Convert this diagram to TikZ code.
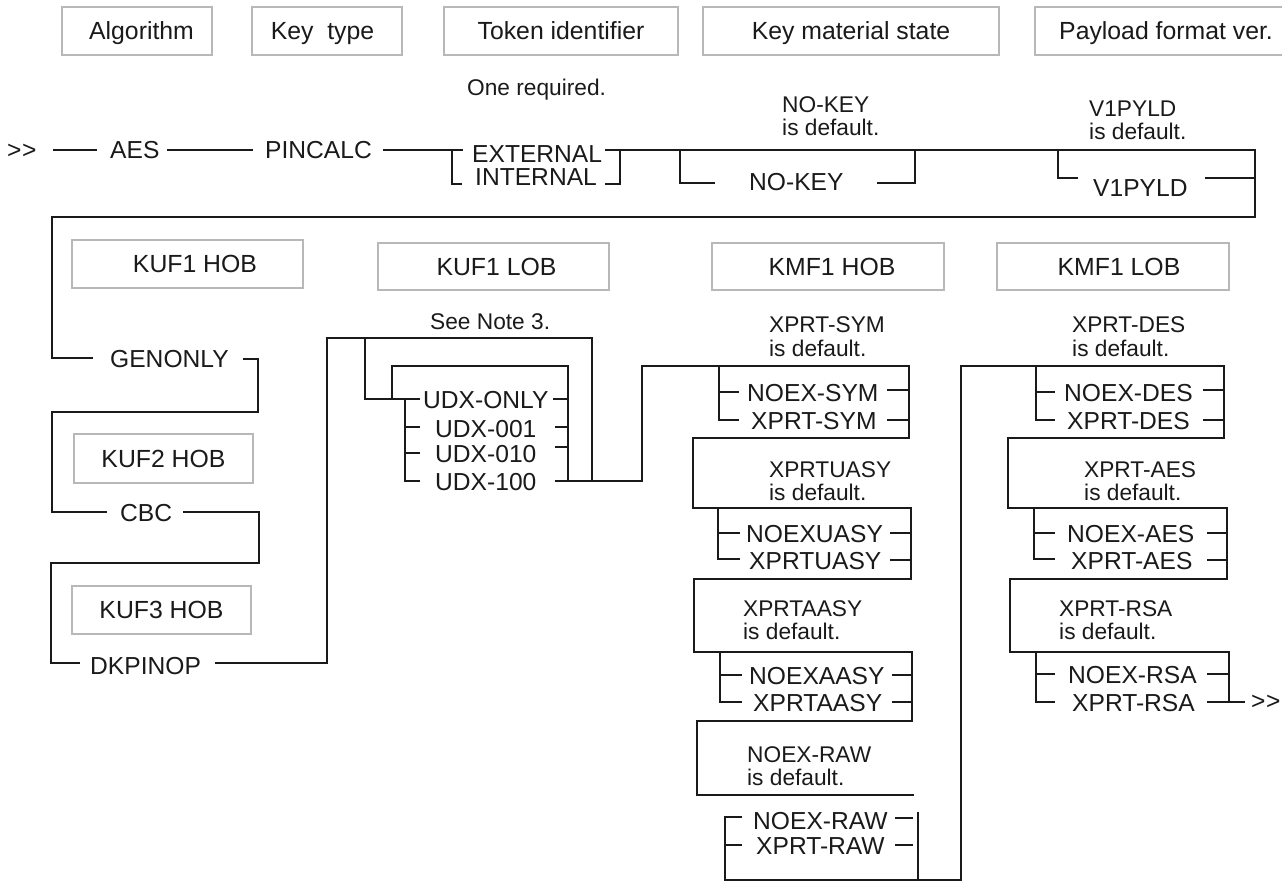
\documentclass[tikz,border=0pt]{standalone}
\usepackage{fontspec}
\setmainfont{Liberation Sans}
\newcommand\lblfont{\fontsize{24.6pt}{26pt}\selectfont}
\newcommand\notefont{\fontsize{22.7pt}{24pt}\selectfont}
\newcommand\hdrfont{\fontsize{24.8pt}{27pt}\selectfont}
\newcommand\gtgt{{>}\kern0.6pt{>}}
\definecolor{boxgray}{HTML}{B8B8B8}
\definecolor{ink}{HTML}{1A1A1A}
\begin{document}
\begin{tikzpicture}[x=1pt,y=-1pt,
  lbl/.style={font=\lblfont, inner sep=0pt, anchor=base west, text=ink},
  note/.style={font=\notefont, inner sep=0pt, anchor=base west, text=ink},
  hdr/.style={draw=boxgray, line width=1.1pt, font=\hdrfont, inner sep=0pt,
              text height=17.8pt, text depth=0pt, text=ink, rectangle},
  hdrtxt/.style={font=\hdrfont, inner sep=0pt, text height=17.8pt, text depth=0pt, text=ink},
  conn/.style={line width=2.2pt, draw=ink, line join=miter, line cap=butt}
]
\fill[white] (0,0) rectangle (1282,882);
\useasboundingbox (0,0) rectangle (1282,882);

% ---------- header boxes, first row ----------
\node[hdr, minimum width=150pt, minimum height=48pt] (h1) at (137,31) {\hspace*{9pt}Algorithm};
\node[hdr, minimum width=150pt, minimum height=48pt] (h2) at (327,31) {Key\ \ type\hspace*{9pt}};
\node[hdr, minimum width=234pt, minimum height=48pt] (h3) at (561,31) {Token identifier};
\node[hdr, minimum width=296pt, minimum height=48pt] (h4) at (851,31) {Key material state};
\node[hdr, minimum width=266pt, minimum height=48pt] (h5) at (1168,31) {};
\node[hdrtxt, anchor=west] (h5t) at (1059,31) {Payload format ver.};

% ---------- header boxes, second part ----------
\node[hdr, minimum width=231pt, minimum height=48pt] (k1) at (187.5,264) {\hspace*{15pt}KUF1 HOB};
\node[hdr, minimum width=231pt, minimum height=47pt] (k2) at (493.5,266.5) {\hspace*{6pt}KUF1 LOB};
\node[hdr, minimum width=232pt, minimum height=47pt] (k3) at (828,266.5) {\hspace*{8pt}KMF1 HOB};
\node[hdr, minimum width=232pt, minimum height=47pt] (k4) at (1113,266.5) {\hspace*{12pt}KMF1 LOB};
\node[hdr, minimum width=179pt, minimum height=49pt] (k5) at (163.5,458.5) {KUF2 HOB};
\node[hdr, minimum width=179pt, minimum height=48pt] (k6) at (161.5,610) {KUF3 HOB};

% ---------- notes ----------
\node[note] (n0) at (467,96) {One required.};
\node[note] (n1) at (782,113) {NO-KEY};
\node[note] (n1b) at (782,136) {is default.};
\node[note] (n2) at (1089,117) {V1PYLD};
\node[note] (n2b) at (1089,140) {is default.};
\node[note] (n3) at (430,330) {See Note 3.};
\node[note] (n4) at (769,333) {XPRT-SYM};
\node[note] (n4b) at (769,356) {is default.};
\node[note] (n5) at (1072,333) {XPRT-DES};
\node[note] (n5b) at (1072,356) {is default.};
\node[note] (n6) at (769,477) {XPRTUASY};
\node[note] (n6b) at (769,500) {is default.};
\node[note] (n7) at (1084,477) {XPRT-AES};
\node[note] (n7b) at (1084,500) {is default.};
\node[note] (n8) at (743,616) {XPRTAASY};
\node[note] (n8b) at (743,639) {is default.};
\node[note] (n9) at (1059,616) {XPRT-RSA};
\node[note] (n9b) at (1059,639) {is default.};
\node[note] (n10) at (747,762) {NOEX-RAW};
\node[note] (n10b) at (747,785) {is default.};

% ---------- keyword labels ----------
\node[font=\lblfont, inner sep=0pt, anchor=west, text=ink] (start) at (7,151) {\gtgt};
\node[lbl] (aes) at (110,159) {AES};
\node[lbl] (pincalc) at (265,159) {PINCALC};
\node[lbl] (ext) at (472,163) {EXTERNAL};
\node[lbl] (int) at (475,186) {INTERNAL};
\node[lbl] (nokey) at (749,191) {NO-KEY};
\node[lbl] (v1) at (1093,197) {V1PYLD};
\node[lbl] (gen) at (110,368) {GENONLY};
\node[lbl] (cbc) at (120,521) {CBC};
\node[lbl] (dkp) at (90,674) {DKPINOP};
\node[lbl] (udxo) at (423,408) {UDX-ONLY};
\node[lbl] (udx1) at (435,437) {UDX-001};
\node[lbl] (udx2) at (435,462) {UDX-010};
\node[lbl] (udx3) at (435,490) {UDX-100};
\node[lbl] (nsym) at (747,401) {NOEX-SYM};
\node[lbl] (xsym) at (751,429) {XPRT-SYM};
\node[lbl] (nuasy) at (746,542) {NOEXUASY};
\node[lbl] (xuasy) at (749,569) {XPRTUASY};
\node[lbl] (naasy) at (749,684) {NOEXAASY};
\node[lbl] (xaasy) at (753,711) {XPRTAASY};
\node[lbl] (nraw) at (753,829) {NOEX-RAW};
\node[lbl] (xraw) at (756,854) {XPRT-RAW};
\node[lbl] (ndes) at (1064,401) {NOEX-DES};
\node[lbl] (xdes) at (1067,429) {XPRT-DES};
\node[lbl] (naes) at (1067,542) {NOEX-AES};
\node[lbl] (xaes) at (1071,569) {XPRT-AES};
\node[lbl] (nrsa) at (1068,683) {NOEX-RSA};
\node[lbl] (xrsa) at (1072,711) {XPRT-RSA};
\node[font=\lblfont, inner sep=0pt, anchor=west, text=ink] (end) at (1251,702) {\gtgt};

% ---------- first row ----------
\draw[conn] (53,150) -- (97,150);
\draw[conn] (167,150) -- (253,150);
\draw[conn] (383,150) -- (463,150);
\draw[conn] (452,150) -- (452,184) -- (462,184);
\draw[conn] (605,184) -- (620,184) -- (620,150);
\draw[conn] (605,150) -- (1255,150) -- (1255,217) -- (52,217) -- (52,358) -- (93,358);
\draw[conn] (680,150) -- (680,183) -- (715,183);
\draw[conn] (877,183) -- (915,183) -- (915,150);
\draw[conn] (1058,150) -- (1058,178) -- (1078,178);
\draw[conn] (1205,178) -- (1255,178);

% ---------- KUF column ----------
\draw[conn] (243,359) -- (258,359) -- (258,412) -- (52,412) -- (52,512) -- (107,512);
\draw[conn] (183,512) -- (259,512) -- (259,563) -- (51,563) -- (51,663) -- (80,663);
\draw[conn] (215,663) -- (327,663) -- (327,338) -- (592,338) -- (592,481);

% ---------- UDX group ----------
\draw[conn] (365,338) -- (365,399) -- (420,399);
\draw[conn] (392,399) -- (392,366) -- (568,366) -- (568,481);
\draw[conn] (405,399) -- (405,481) -- (420,481);
\draw[conn] (405,427) -- (420,427);
\draw[conn] (405,453) -- (420,453);
\draw[conn] (553,399) -- (568,399);
\draw[conn] (555,427) -- (568,427);
\draw[conn] (555,447) -- (568,447);

% ---------- KMF1 HOB column ----------
\draw[conn] (555,481) -- (642,481) -- (642,366) -- (909,366) -- (909,438) -- (693,438)
  -- (693,508) -- (911,508) -- (911,579) -- (694,579) -- (694,652) -- (912,652)
  -- (912,721) -- (697,721) -- (697,795) -- (914,795);
\draw[conn] (719,366) -- (719,420) -- (739,420);
\draw[conn] (719,392) -- (739,392);
\draw[conn] (887,390) -- (909,390);
\draw[conn] (887,420) -- (909,420);
\draw[conn] (718,508) -- (718,559) -- (740,559);
\draw[conn] (718,533) -- (740,533);
\draw[conn] (890,533) -- (911,533);
\draw[conn] (890,560) -- (911,560);
\draw[conn] (720,652) -- (720,702) -- (742,702);
\draw[conn] (720,675) -- (742,675);
\draw[conn] (892,675) -- (912,675);
\draw[conn] (892,702) -- (912,702);
\draw[conn] (742,817) -- (725,817) -- (725,880) -- (961,880) -- (961,366) -- (1224,366)
  -- (1224,438) -- (1008,438) -- (1008,508) -- (1227,508) -- (1227,579) -- (1010,579)
  -- (1010,652) -- (1229,652) -- (1229,702);
\draw[conn] (725,845) -- (742,845);
\draw[conn] (895,818) -- (913,818);
\draw[conn] (895,845) -- (913,845);
\draw[conn] (918,812) -- (918,880);

% ---------- KMF1 LOB column ----------
\draw[conn] (1036,366) -- (1036,420) -- (1055,420);
\draw[conn] (1036,392) -- (1055,392);
\draw[conn] (1203,390) -- (1224,390);
\draw[conn] (1203,420) -- (1224,420);
\draw[conn] (1034,508) -- (1034,559) -- (1055,559);
\draw[conn] (1034,533) -- (1055,533);
\draw[conn] (1207,533) -- (1227,533);
\draw[conn] (1207,560) -- (1227,560);
\draw[conn] (1036,652) -- (1036,702) -- (1055,702);
\draw[conn] (1036,674) -- (1055,674);
\draw[conn] (1207,674) -- (1229,674);
\draw[conn] (1207,702) -- (1245,702);
\end{tikzpicture}
\end{document}
